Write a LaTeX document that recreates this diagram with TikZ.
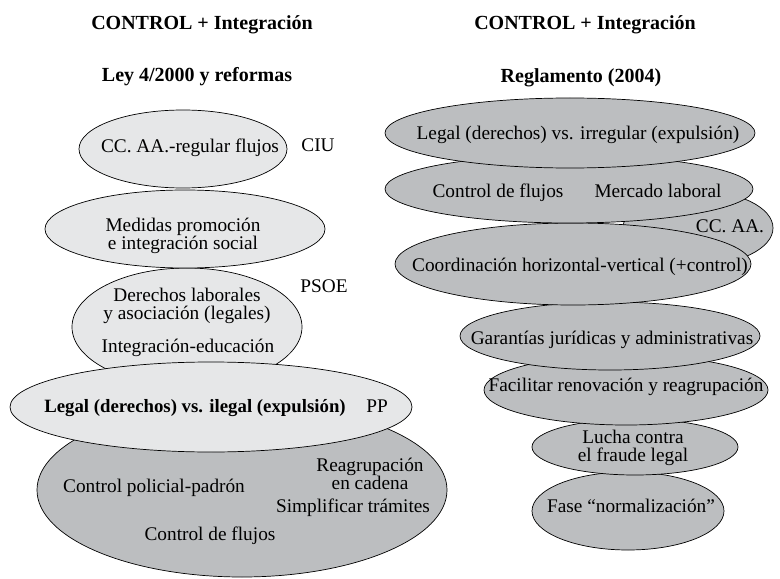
\documentclass[tikz,border=0pt]{standalone}
\usepackage{fontspec}
\setmainfont{Liberation Serif}
\usetikzlibrary{shapes.geometric}
\definecolor{lightfill}{HTML}{E6E7E8}
\definecolor{darkfill}{HTML}{BCBEC0}
\tikzset{
  ellbase/.style={ellipse, draw=black, line width=0.7bp, inner sep=0pt},
  lightell/.style={ellbase, fill=lightfill},
  darkell/.style={ellbase, fill=darkfill},
  txt/.style={font=\fontsize{19.3bp}{18.5bp}\selectfont, align=center, inner sep=0pt},
  one/.style={txt, text height=1em, text depth=0.13em},
  boldtxt/.style={one, font=\fontsize{18.8bp}{18.5bp}\selectfont\bfseries},
  hdr/.style={font=\fontsize{20bp}{22bp}\selectfont\bfseries, inner sep=0pt, text height=1em, text depth=0.13em}
}
\begin{document}
\begin{tikzpicture}[x=1bp, y=-1bp]
\useasboundingbox (0,0) rectangle (780,579);
% headers
\node[hdr] (h1) at (202,25) {CONTROL + Integración};
\node[hdr] (h2) at (197,77) {Ley 4/2000 y reformas};
\node[hdr] (h3) at (585,25) {CONTROL + Integración};
\node[hdr] (h4) at (581,78) {Reglamento (2004)};
% left column ellipses
\node[darkell, minimum width=410bp, minimum height=174bp] (e5) at (242,490) {};
\node[lightell, minimum width=230bp, minimum height=118bp] (e3) at (187,327) {};
\node[lightell, minimum width=402bp, minimum height=90bp] (e4) at (211,407) {};
\node[lightell, minimum width=208bp, minimum height=78bp] (e1) at (183,149) {};
\node[lightell, minimum width=280bp, minimum height=78bp] (e2) at (185,229) {};
% left texts
\node[one] (t1) at (190,148) {CC. AA.-regular flujos};
\node[one] (ciu) at (318,147) {CIU};
\node[txt] (t2) at (183,236) {Medidas promoción\\e integración social};
\node[txt] (t3) at (187,306) {Derechos laborales\\y asociación (legales)};
\node[one] (t4) at (188,348) {Integración-educación};
\node[one] (psoe) at (324,288) {PSOE};
\node[boldtxt] (t5) at (195,408) {Legal (derechos) vs. ilegal (expulsión)};
\node[one] (pp) at (377,408) {PP};
\node[one] (t6) at (154,488) {Control policial-padrón};
\node[txt] (t7) at (370,474) {Reagrupación\\en cadena};
\node[one] (t8) at (353,508) {Simplificar trámites};
\node[one] (t9) at (210,536) {Control de flujos};
% right column ellipses
\node[darkell, minimum width=150bp, minimum height=74bp] (r3) at (698,228) {};
\node[darkell, minimum width=192bp, minimum height=78bp] (r8) at (628,511) {};
\node[darkell, minimum width=206bp, minimum height=56bp] (r7) at (635,447) {};
\node[darkell, minimum width=284bp, minimum height=70bp] (r6) at (626,390) {};
\node[darkell, minimum width=300bp, minimum height=68bp] (r5) at (610,336) {};
\node[darkell, minimum width=356bp, minimum height=82bp] (r4) at (573,264) {};
\node[darkell, minimum width=368bp, minimum height=68bp] (r2) at (569,189) {};
\node[darkell, minimum width=370bp, minimum height=70bp] (r1) at (570,133) {};
% right texts
\node[one] (s1) at (578,135) {Legal (derechos) vs. irregular (expulsión)};
\node[one] (s2a) at (498,193) {Control de flujos};
\node[one] (s2b) at (658,193) {Mercado laboral};
\node[one] (s3) at (730,228) {CC. AA.};
\node[one] (s4) at (580,267) {Coordinación horizontal-vertical (+control)};
\node[one] (s5) at (612,340) {Garantías jurídicas y administrativas};
\node[one] (s6) at (626,387) {Facilitar renovación y reagrupación};
\node[txt] (s7) at (633,448) {Lucha contra\\el fraude legal};
\node[one] (s8) at (631,508) {Fase “normalización”};
\end{tikzpicture}
\end{document}
